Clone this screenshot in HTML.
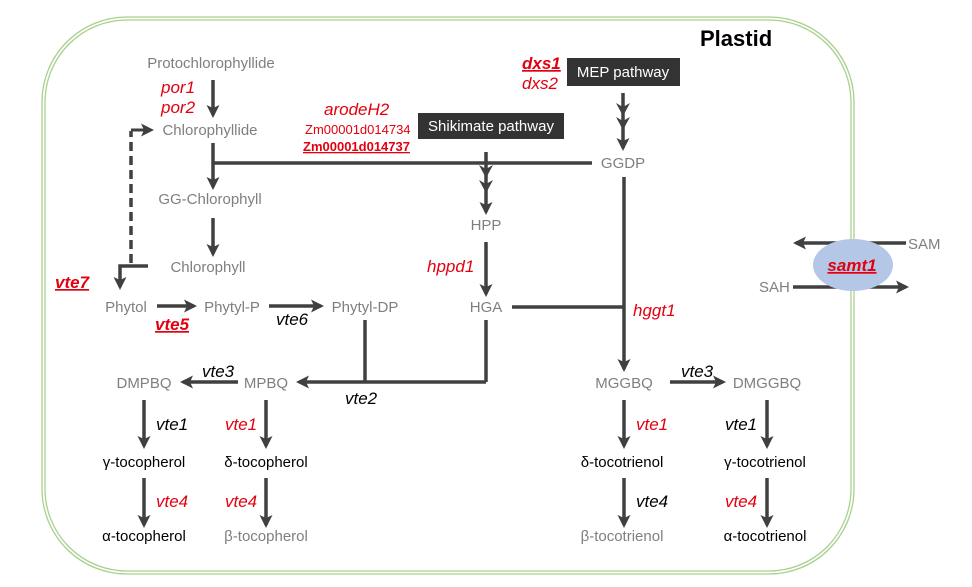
<!DOCTYPE html>
<html><head><meta charset="utf-8"><style>
html,body{margin:0;padding:0;background:#fff}
svg{display:block}
text{font-family:"Liberation Sans",Arial,sans-serif}
.g{fill:#7f7f7f;font-size:15px}
.k{fill:#000;font-size:15px}
.r{fill:#e3000f;font-size:17px;font-style:italic}
.b{fill:#000;font-size:17px;font-style:italic}
.ru{fill:#e3000f;font-size:17px;font-style:italic;font-weight:bold;text-decoration:underline}
.w{fill:#fff;font-size:15px}
</style></head><body>
<svg width="972" height="587" viewBox="0 0 972 587" xmlns="http://www.w3.org/2000/svg">
<defs>
<marker id="a" markerWidth="16" markerHeight="16" refX="10" refY="7" orient="auto" markerUnits="userSpaceOnUse">
<path d="M0,0.5 L13,7 L0,13.5 L3,7 Z" fill="#404040"/>
</marker>
</defs>
<rect x="42" y="17" width="812" height="557" rx="85" ry="85" fill="none" stroke="#a9d08e" stroke-width="1.3"/>
<rect x="45" y="20" width="806" height="551" rx="82" ry="82" fill="none" stroke="#a9d08e" stroke-width="1.3"/>
<text x="700" y="46" style="font-size:22px;font-weight:bold;fill:#000">Plastid</text>

<g stroke="#404040" stroke-width="3.5" fill="none">
<line x1="213" y1="80" x2="213" y2="115" marker-end="url(#a)"/>
<line x1="213" y1="143" x2="213" y2="187" marker-end="url(#a)"/>
<line x1="213" y1="163" x2="592" y2="163"/>
<line x1="213" y1="218" x2="213" y2="254" marker-end="url(#a)"/>
<line x1="131" y1="263" x2="131" y2="131" stroke-dasharray="9,5"/>
<line x1="131" y1="130" x2="151" y2="130" marker-end="url(#a)" stroke-width="3"/>
<polyline points="148,266 120,266 120,287" marker-end="url(#a)"/>
<line x1="157" y1="306" x2="194" y2="306" marker-end="url(#a)"/>
<line x1="269" y1="306" x2="321" y2="306" marker-end="url(#a)"/>
<line x1="365" y1="320" x2="365" y2="382"/>
<line x1="486" y1="320" x2="486" y2="382"/>
<line x1="486" y1="382" x2="299" y2="382" marker-end="url(#a)"/>
<line x1="238" y1="382" x2="183" y2="382" marker-end="url(#a)"/>
<line x1="486" y1="152" x2="486" y2="212" marker-end="url(#a)"/>
<line x1="486" y1="242" x2="486" y2="294" marker-end="url(#a)"/>
<line x1="512" y1="307" x2="624" y2="307"/>
<line x1="623" y1="93" x2="623" y2="148" marker-end="url(#a)"/>
<line x1="624" y1="177" x2="624" y2="369" marker-end="url(#a)"/>
<line x1="670" y1="382" x2="723" y2="382" marker-end="url(#a)"/>
<line x1="144" y1="400" x2="144" y2="446" marker-end="url(#a)"/>
<line x1="144" y1="478" x2="144" y2="525" marker-end="url(#a)"/>
<line x1="266" y1="400" x2="266" y2="446" marker-end="url(#a)"/>
<line x1="266" y1="478" x2="266" y2="525" marker-end="url(#a)"/>
<line x1="624" y1="400" x2="624" y2="446" marker-end="url(#a)"/>
<line x1="624" y1="478" x2="624" y2="525" marker-end="url(#a)"/>
<line x1="767" y1="400" x2="767" y2="446" marker-end="url(#a)"/>
<line x1="767" y1="478" x2="767" y2="525" marker-end="url(#a)"/>
</g>
<g fill="#404040">
<path d="M479,165 L486,178 L493,165 L486,169 Z"/>
<path d="M479,180 L486,193 L493,180 L486,184 Z"/>
<path d="M616,103 L623,116 L630,103 L623,107 Z"/>
<path d="M616,117 L623,130 L630,117 L623,121 Z"/>
</g>

<g stroke="#404040" stroke-width="3.5" fill="none">
<line x1="906" y1="243" x2="796" y2="243" marker-end="url(#a)"/>
<line x1="793" y1="287" x2="906" y2="287" marker-end="url(#a)"/>
</g>
<ellipse cx="853" cy="265" rx="40" ry="26" fill="#b4c7e7"/>
<text x="852" y="271" text-anchor="middle" class="ru">samt1</text>
<text x="908" y="249" class="g">SAM</text>
<text x="759" y="292" class="g">SAH</text>

<rect x="418" y="113" width="146" height="26" fill="#333"/>
<text x="491" y="131" text-anchor="middle" class="w">Shikimate pathway</text>
<rect x="567" y="58" width="113" height="28" fill="#333"/>
<text x="623" y="77" text-anchor="middle" class="w">MEP pathway</text>

<text x="211" y="68" text-anchor="middle" class="g">Protochlorophyllide</text>
<text x="210" y="135" text-anchor="middle" class="g">Chlorophyllide</text>
<text x="210" y="204" text-anchor="middle" class="g">GG-Chlorophyll</text>
<text x="208" y="272" text-anchor="middle" class="g">Chlorophyll</text>
<text x="126" y="312" text-anchor="middle" class="g">Phytol</text>
<text x="232" y="312" text-anchor="middle" class="g">Phytyl-P</text>
<text x="365" y="312" text-anchor="middle" class="g">Phytyl-DP</text>
<text x="486" y="230" text-anchor="middle" class="g">HPP</text>
<text x="486" y="312" text-anchor="middle" class="g">HGA</text>
<text x="623" y="168" text-anchor="middle" class="g">GGDP</text>
<text x="144" y="388" text-anchor="middle" class="g">DMPBQ</text>
<text x="266" y="388" text-anchor="middle" class="g">MPBQ</text>
<text x="624" y="388" text-anchor="middle" class="g">MGGBQ</text>
<text x="767" y="388" text-anchor="middle" class="g">DMGGBQ</text>
<text x="144" y="467" text-anchor="middle" class="k">γ-tocopherol</text>
<text x="266" y="467" text-anchor="middle" class="k">δ-tocopherol</text>
<text x="144" y="541" text-anchor="middle" class="k">α-tocopherol</text>
<text x="266" y="541" text-anchor="middle" class="g">β-tocopherol</text>
<text x="622" y="467" text-anchor="middle" class="k">δ-tocotrienol</text>
<text x="765" y="467" text-anchor="middle" class="k">γ-tocotrienol</text>
<text x="622" y="541" text-anchor="middle" class="g">β-tocotrienol</text>
<text x="765" y="541" text-anchor="middle" class="k">α-tocotrienol</text>

<text x="161" y="93" class="r">por1</text>
<text x="161" y="113" class="r">por2</text>
<text x="324" y="115" class="r">arodeH2</text>
<text x="305" y="134" style="fill:#e3000f;font-size:13px">Zm00001d014734</text>
<text x="303" y="151" style="fill:#e3000f;font-size:13px;font-weight:bold;text-decoration:underline">Zm00001d014737</text>
<text x="522" y="69" class="ru">dxs1</text>
<text x="522" y="89" class="r">dxs2</text>
<text x="55" y="288" class="ru">vte7</text>
<text x="155" y="330" class="ru">vte5</text>
<text x="276" y="325" class="b">vte6</text>
<text x="427" y="272" class="r">hppd1</text>
<text x="633" y="316" class="r">hggt1</text>
<text x="345" y="404" class="b">vte2</text>
<text x="202" y="377" class="b">vte3</text>
<text x="681" y="377" class="b">vte3</text>
<text x="156" y="430" class="b">vte1</text>
<text x="156" y="507" class="r">vte4</text>
<text x="225" y="430" class="r">vte1</text>
<text x="225" y="507" class="r">vte4</text>
<text x="636" y="430" class="r">vte1</text>
<text x="636" y="507" class="b">vte4</text>
<text x="725" y="430" class="b">vte1</text>
<text x="725" y="507" class="r">vte4</text>
</svg>
</body></html>
